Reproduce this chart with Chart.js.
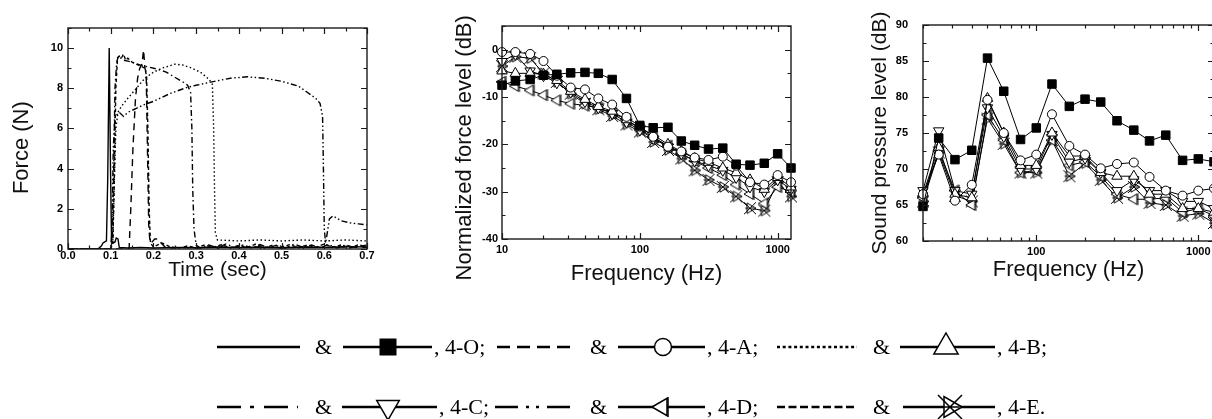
<!DOCTYPE html>
<html>
<head>
<meta charset="utf-8">
<script src="https://cdn.jsdelivr.net/npm/chart.js@4.4.0/dist/chart.umd.min.js"></script>
<style>
html, body { margin: 0; padding: 0; background: #fff; }
#page { position: relative; width: 1212px; height: 419px; overflow: hidden; }
.box { position: absolute; }
.lg { position: absolute; font-family: "Liberation Serif", "Times New Roman", serif; font-size: 22px; line-height: 22px; white-space: pre; color: #000; }
</style>
</head>
<body>
<div id="page">
  <canvas id="forceChart" class="box" width="385" height="290" style="left:0;top:0"></canvas>
  <canvas id="nflChart" class="box" width="400" height="295" style="left:400px;top:0"></canvas>
  <canvas id="splChart" class="box" width="420" height="295" style="left:820px;top:0"></canvas>
  <canvas id="legendLines" class="box" width="1212" height="99" style="left:0;top:320px"></canvas>
  <div id="legend"></div>
</div>
<script>
// ---- force vs time (left panel) ----
const t4O = [0, 0.07, 0.078, 0.082, 0.086, 0.09, 0.093, 0.0965, 0.0995, 0.102, 0.106, 0.11, 0.113, 0.117, 0.12, 0.14, 0.17, 0.2, 0.25, 0.3, 0.35, 0.4, 0.45, 0.5, 0.55, 0.6, 0.65, 0.7];
const f4O = [0, 0, 0.15, 0.3, 0.35, 0.4, 3.5, 10.0, 4.0, 0.35, 0.3, 0.35, 0.55, 0.5, 0.08, 0.05, 0.08, 0.05, 0.08, 0.06, 0.1, 0.07, 0.1, 0.06, 0.1, 0.08, 0.12, 0.1];

const t4A = [0, 0.143, 0.147, 0.152, 0.158, 0.163, 0.168, 0.173, 0.177, 0.18, 0.183, 0.186, 0.189, 0.192, 0.197, 0.203, 0.21, 0.218, 0.226, 0.24, 0.27, 0.3, 0.35, 0.4, 0.45, 0.5, 0.55, 0.6, 0.65, 0.7];
const f4A = [0, 0, 2.0, 5.0, 7.5, 8.5, 9.0, 9.2, 9.9, 9.0, 8.8, 5.0, 1.2, 0.3, 0.35, 0.5, 0.5, 0.3, 0.12, 0.05, 0.08, 0.05, 0.1, 0.08, 0.1, 0.05, 0.1, 0.08, 0.1, 0.08];

const t4B = [0, 0.1, 0.105, 0.108, 0.112, 0.117, 0.125, 0.14, 0.16, 0.18, 0.2, 0.22, 0.25, 0.27, 0.29, 0.31, 0.33, 0.338, 0.341, 0.343, 0.345, 0.35, 0.4, 0.45, 0.5, 0.55, 0.6, 0.65, 0.7];
const f4B = [0, 0, 0.5, 3.0, 6.0, 6.8, 7.1, 7.5, 8.0, 8.5, 8.8, 9.0, 9.2, 9.15, 9.0, 8.8, 8.45, 8.2, 6.0, 3.0, 0.8, 0.45, 0.4, 0.45, 0.4, 0.45, 0.4, 0.45, 0.4];

const t4C = [0, 0.1, 0.104, 0.107, 0.11, 0.114, 0.118, 0.124, 0.13, 0.14, 0.15, 0.17, 0.19, 0.21, 0.23, 0.25, 0.27, 0.28, 0.287, 0.29, 0.292, 0.295, 0.3, 0.31, 0.33, 0.35, 0.37, 0.39, 0.41, 0.43, 0.45, 0.47, 0.49, 0.51, 0.53, 0.55, 0.57, 0.59, 0.61, 0.63, 0.65, 0.67, 0.7];
const f4C = [0, 0, 0.5, 4.0, 8.0, 9.3, 9.6, 9.5, 9.4, 9.35, 9.3, 9.15, 9.05, 8.95, 8.8, 8.55, 8.3, 8.15, 7.8, 6.0, 3.0, 1.0, 0.2, 0.05, 0.2, 0.05, 0.25, 0.08, 0.2, 0.05, 0.22, 0.06, 0.2, 0.05, 0.25, 0.08, 0.2, 0.06, 0.22, 0.05, 0.2, 0.08, 0.2];

const t4D = [0, 0.1, 0.103, 0.106, 0.11, 0.12, 0.13, 0.14, 0.16, 0.18, 0.2, 0.22, 0.24, 0.26, 0.28, 0.3, 0.34, 0.38, 0.42, 0.46, 0.5, 0.54, 0.56, 0.58, 0.59, 0.596, 0.598, 0.6, 0.603, 0.607, 0.612, 0.62, 0.64, 0.66, 0.68, 0.7];
const f4D = [0, 0, 1.0, 5.0, 6.6, 6.8, 6.6, 6.8, 7.0, 7.2, 7.35, 7.55, 7.75, 7.9, 8.05, 8.15, 8.33, 8.5, 8.57, 8.5, 8.35, 8.1, 7.8, 7.5, 7.25, 6.6, 4.0, 1.0, 0.3, 0.8, 1.5, 1.65, 1.4, 1.3, 1.25, 1.2];

const t4E = [0, 0.1, 0.105, 0.108, 0.112, 0.116, 0.12, 0.125, 0.13, 0.135, 0.14, 0.15, 0.16, 0.17, 0.18, 0.184, 0.187, 0.19, 0.193, 0.2, 0.22, 0.24, 0.26, 0.28, 0.3, 0.32, 0.34, 0.36, 0.38, 0.4, 0.42, 0.44, 0.46, 0.48, 0.5, 0.52, 0.54, 0.56, 0.58, 0.6, 0.62, 0.64, 0.66, 0.68, 0.7];
const f4E = [0, 0, 0.3, 3.0, 8.0, 9.5, 9.6, 9.5, 9.7, 9.4, 9.5, 9.3, 9.2, 9.1, 9.0, 8.6, 6.0, 2.0, 0.3, 0.1, 0.3, 0.1, 0.05, 0.15, 0.05, 0.2, 0.08, 0.22, 0.05, 0.18, 0.08, 0.25, 0.05, 0.2, 0.1, 0.22, 0.06, 0.2, 0.08, 0.25, 0.1, 0.2, 0.05, 0.22, 0.1];

// ---- normalized force level (middle panel) ----
const freqNFL = [10, 12.5, 16, 20, 25, 31.5, 40, 50, 63, 80, 100, 125, 160, 200, 250, 315, 400, 500, 630, 800, 1000, 1250];
const nfl4O = [-7.5, -6.6, -6.3, -5.4, -5.2, -4.9, -4.8, -5.0, -6.3, -10.3, -16.0, -16.5, -16.4, -19.3, -20.2, -21.0, -20.8, -24.2, -24.4, -24.0, -22.0, -25.0];
const nfl4A = [-0.5, -0.5, -0.9, -2.4, -5.5, -8.0, -8.4, -10.3, -11.6, -14.2, -16.2, -18.4, -20.5, -21.5, -22.8, -23.3, -22.6, -24.5, -28.0, -28.5, -26.5, -28.0];
const nfl4B = [-4.5, -5.0, -5.0, -5.2, -6.5, -8.8, -10.5, -12.0, -13.0, -14.8, -16.5, -18.0, -20.0, -21.5, -23.0, -23.8, -25.0, -26.0, -27.5, -29.5, -27.0, -29.0];
const nfl4C = [-2.5, -1.0, -4.5, -5.5, -7.0, -9.0, -11.0, -12.3, -13.5, -15.3, -17.0, -18.8, -20.5, -22.0, -23.5, -24.5, -25.5, -27.0, -29.0, -30.0, -27.5, -29.5];
const nfl4D = [-6.8, -7.7, -8.6, -9.6, -10.7, -11.4, -11.8, -12.3, -13.4, -14.7, -16.8, -18.5, -20.3, -22.0, -23.5, -25.0, -26.5, -28.5, -30.5, -32.5, -29.0, -30.0];
const nfl4E = [-3.5, -1.5, -1.8, -5.0, -6.8, -9.3, -11.4, -12.6, -14.0, -15.8, -17.3, -19.5, -21.2, -23.0, -25.5, -27.5, -29.0, -31.0, -33.5, -34.0, -28.0, -31.0];

// ---- sound pressure level (right panel) ----
const freqSPL = [20, 25, 31.5, 40, 50, 63, 80, 100, 125, 160, 200, 250, 315, 400, 500, 630, 800, 1000, 1250];
const spl4O = [64.8, 74.3, 71.3, 72.6, 85.4, 80.8, 74.1, 75.7, 81.8, 78.7, 79.7, 79.3, 76.7, 75.4, 73.9, 74.7, 71.2, 71.4, 71.0];
const spl4A = [66.5, 72.0, 65.6, 67.8, 79.6, 75.0, 71.2, 72.0, 77.6, 73.2, 72.0, 70.1, 70.7, 70.9, 68.9, 67.0, 66.3, 67.0, 67.3];
const spl4B = [66.5, 73.0, 66.5, 66.0, 79.8, 75.0, 70.5, 70.5, 75.0, 71.8, 71.8, 69.5, 69.0, 69.0, 66.5, 66.5, 64.5, 64.5, 64.0];
const spl4C = [67.0, 75.3, 67.0, 66.5, 78.5, 74.5, 70.0, 70.0, 74.8, 71.0, 71.5, 69.5, 67.0, 68.5, 67.0, 67.0, 65.5, 65.5, 64.5];
const spl4D = [66.0, 72.5, 67.0, 65.0, 77.5, 74.0, 69.5, 69.8, 74.0, 70.5, 71.0, 69.0, 66.5, 65.8, 65.8, 66.0, 64.0, 64.5, 63.5];
const spl4E = [65.5, 72.3, 66.3, 65.5, 77.0, 73.5, 69.5, 69.5, 74.0, 69.0, 70.8, 68.5, 66.0, 67.5, 65.3, 65.0, 63.5, 63.8, 62.5];

const sans = "'Liberation Sans', Arial, sans-serif";
const tickFont = { family: sans, size: 11, weight: 'bold' };

// markers drawn by hand (same shapes in plots and legend)
function drawMarker(g, kind, x, y, s) {
    g.beginPath();
    if (kind === 'square') {
        g.fillStyle = '#000';
        g.fillRect(x - s, y - s, 2 * s, 2 * s);
        return;
    }
    g.fillStyle = '#fff';
    if (kind === 'circle') {
        g.arc(x, y, s, 0, Math.PI * 2);
    } else if (kind === 'tri') {
        g.moveTo(x, y - s); g.lineTo(x + s * 0.866, y + s / 2); g.lineTo(x - s * 0.866, y + s / 2); g.closePath();
    } else if (kind === 'triDown') {
        g.moveTo(x, y + s); g.lineTo(x + s * 0.866, y - s / 2); g.lineTo(x - s * 0.866, y - s / 2); g.closePath();
    } else if (kind === 'triLeftBar') {
        g.moveTo(x - s, y); g.lineTo(x + s / 2, y - s * 0.866); g.lineTo(x + s / 2, y + s * 0.866); g.closePath();
        g.fill(); g.stroke();
        g.beginPath();
        g.moveTo(x + s / 2 + 1, y - s); g.lineTo(x + s / 2 + 1, y + s);
        g.stroke();
        return;
    } else if (kind === 'starTri') {
        g.moveTo(x + s, y); g.lineTo(x - s / 2, y - s * 0.866); g.lineTo(x - s / 2, y + s * 0.866); g.closePath();
        g.fill(); g.stroke();
        g.beginPath();
        g.moveTo(x - s, y - s); g.lineTo(x + s, y + s);
        g.moveTo(x + s, y - s); g.lineTo(x - s, y + s);
        g.moveTo(x - s * 0.8, y); g.lineTo(x + s * 0.8, y);
        g.stroke();
        return;
    }
    g.fill(); g.stroke();
}

function markerCanvas(kind, s) {
    const c = document.createElement('canvas');
    c.width = 2 * s + 4; c.height = 2 * s + 4;
    const g = c.getContext('2d');
    g.strokeStyle = '#000'; g.lineWidth = 1;
    drawMarker(g, kind, c.width / 2, c.height / 2, s);
    return c;
}

// frame with inward ticks on all four sides
function tickList(scale, o) {
    const out = [];
    if (o.log) {
        const e0 = Math.floor(Math.log10(scale.min)), e1 = Math.ceil(Math.log10(scale.max));
        for (let e = e0; e <= e1; e++) {
            for (let k = 1; k < 10; k++) {
                const v = k * Math.pow(10, e);
                if (v >= scale.min - 1e-9 && v <= scale.max + 1e-9) out.push([v, k === 1]);
            }
        }
    } else {
        const i0 = Math.ceil(scale.min / o.minor - 1e-9), i1 = Math.floor(scale.max / o.minor + 1e-9);
        for (let i = i0; i <= i1; i++) {
            const v = i * o.minor;
            out.push([v, Math.abs(v / o.major - Math.round(v / o.major)) < 1e-6]);
        }
    }
    return out;
}

const framePlugin = {
    id: 'frame',
    afterDatasetsDraw(chart, args, opts) {
        const { ctx, chartArea: a, scales: { x, y } } = chart;
        ctx.save();
        ctx.strokeStyle = '#1a1a1a';
        ctx.lineWidth = 1.4;
        ctx.strokeRect(a.left, a.top, a.right - a.left, a.bottom - a.top);
        ctx.beginPath();
        tickList(x, opts.x).forEach(([v, major]) => {
            const p = Math.round(x.getPixelForValue(v)) + 0.5;
            const l = major ? 6 : 3.5;
            ctx.moveTo(p, a.bottom); ctx.lineTo(p, a.bottom - l);
            ctx.moveTo(p, a.top); ctx.lineTo(p, a.top + l);
        });
        tickList(y, opts.y).forEach(([v, major]) => {
            const p = Math.round(y.getPixelForValue(v)) + 0.5;
            const l = major ? 6 : 3.5;
            ctx.moveTo(a.left, p); ctx.lineTo(a.left + l, p);
            ctx.moveTo(a.right, p); ctx.lineTo(a.right - l, p);
        });
        ctx.lineWidth = 1.2;
        ctx.stroke();
        ctx.restore();
    }
};

function pairs(xs, ys) {
    return xs.map((v, i) => ({ x: v, y: ys[i] }));
}

function baseOptions(pad) {
    return {
        responsive: false,
        animation: false,
        events: [],
        layout: { padding: pad }
    };
}

function axisTitle(text, size, padding) {
    return { display: true, text: text, color: '#111', font: { family: sans, size: size }, padding: padding };
}

const noGrid = { display: false, drawTicks: false };

// left panel
const timeSeries = [
    [t4O, f4O, []],
    [t4A, f4A, [7, 5]],
    [t4B, f4B, [1.5, 2.5]],
    [t4C, f4C, [6, 3, 1.5, 3]],
    [t4D, f4D, [6, 2.5, 1.5, 2.5, 1.5, 2.5]],
    [t4E, f4E, [3.5, 2.5]]
];

new Chart('forceChart', {
    type: 'line',
    data: {
        datasets: timeSeries.map(s => ({
            data: pairs(s[0], s[1]),
            borderColor: '#000',
            borderWidth: 1.4,
            borderDash: s[2],
            pointRadius: 0,
            tension: 0
        }))
    },
    options: Object.assign(baseOptions({ left: 0, top: 28, right: 18, bottom: 0 }), {
        scales: {
            x: {
                type: 'linear', min: 0, max: 0.7,
                grid: noGrid, border: { display: false },
                afterBuildTicks: s => { s.ticks = [0, 1, 2, 3, 4, 5, 6, 7].map(i => ({ value: i / 10 })); },
                ticks: { font: tickFont, color: '#000', padding: 0, maxRotation: 0, autoSkip: false, callback: v => v.toFixed(1) },
                title: axisTitle('Time (sec)', 21, { top: 0, bottom: 7 }),
                afterFit: s => { s.height = 41; }
            },
            y: {
                type: 'linear', min: 0, max: 11,
                grid: noGrid, border: { display: false },
                afterBuildTicks: s => { s.ticks = [0, 2, 4, 6, 8, 10].map(v => ({ value: v })); },
                ticks: { font: tickFont, color: '#000', padding: 5 },
                title: axisTitle('Force (N)   ', 22, { top: 9, bottom: 0 }),
                afterFit: s => { s.width = 68; }
            }
        },
        plugins: {
            legend: { display: false }, tooltip: { enabled: false },
            frame: { x: { major: 0.1, minor: 0.05 }, y: { major: 2, minor: 1 } }
        }
    }),
    plugins: [framePlugin]
});

// marker styles for the spectra
const markD = markerCanvas('triLeftBar', 6);
const markE = markerCanvas('starTri', 6);
function spectrumSets(freqs, list) {
    const styles = [
        { pointStyle: 'rect', pointRadius: 6, pointBackgroundColor: '#000' },
        { pointStyle: 'circle', pointRadius: 4.5, pointBackgroundColor: '#fff' },
        { pointStyle: 'triangle', pointRadius: 6, pointBackgroundColor: '#fff' },
        { pointStyle: 'triangle', pointRadius: 6, pointRotation: 180, pointBackgroundColor: '#fff' },
        { pointStyle: markD, pointRadius: 6, pointBackgroundColor: '#fff' },
        { pointStyle: markE, pointRadius: 6, pointBackgroundColor: '#fff' }
    ];
    return list.map((vals, i) => Object.assign({
        data: pairs(freqs, vals),
        borderColor: '#000',
        borderWidth: 1,
        pointBorderColor: '#000',
        pointBorderWidth: 1,
        tension: 0,
        clip: 8
    }, styles[i]));
}

function logX(min, max, h, titlePad) {
    return {
        type: 'logarithmic', min: min, max: max,
        grid: noGrid, border: { display: false },
        afterBuildTicks: s => { s.ticks = [10, 100, 1000].filter(v => v >= min && v <= max).map(v => ({ value: v })); },
        ticks: { font: tickFont, color: '#000', padding: 4, maxRotation: 0, autoSkip: false, callback: v => String(v) },
        title: axisTitle('Frequency (Hz)', 22, { top: 0, bottom: titlePad }),
        afterFit: s => { s.height = h; }
    };
}

// middle panel
new Chart('nflChart', {
    type: 'line',
    data: { datasets: spectrumSets(freqNFL, [nfl4O, nfl4A, nfl4B, nfl4C, nfl4D, nfl4E]) },
    options: Object.assign(baseOptions({ left: 50, top: 26, right: 9, bottom: 0 }), {
        scales: {
            x: logX(10, 1250, 56, 8),
            y: {
                type: 'linear', min: -40, max: 5,
                grid: noGrid, border: { display: false },
                afterBuildTicks: s => { s.ticks = [-40, -30, -20, -10, 0].map(v => ({ value: v })); },
                ticks: { font: tickFont, color: '#000', padding: 4 },
                title: axisTitle('Normalized force level (dB)     ', 22, { top: 2, bottom: 0 }),
                afterFit: s => { s.width = 52; }
            }
        },
        plugins: {
            legend: { display: false }, tooltip: { enabled: false },
            frame: { x: { log: true }, y: { major: 10, minor: 5 } }
        }
    }),
    plugins: [framePlugin]
});

// right panel
new Chart('splChart', {
    type: 'line',
    data: { datasets: spectrumSets(freqSPL, [spl4O, spl4A, spl4B, spl4C, spl4D, spl4E]) },
    options: Object.assign(baseOptions({ left: 40, top: 25, right: 26, bottom: 0 }), {
        scales: {
            x: logX(20, 1250, 54, 12),
            y: {
                type: 'linear', min: 60, max: 90,
                grid: noGrid, border: { display: false },
                afterBuildTicks: s => { s.ticks = [60, 65, 70, 75, 80, 85, 90].map(v => ({ value: v })); },
                ticks: { font: tickFont, color: '#000', padding: 15 },
                title: axisTitle('Sound pressure level (dB)', 21, { top: 8, bottom: 0 }),
                afterFit: s => { s.width = 63; }
            }
        },
        plugins: {
            legend: { display: false }, tooltip: { enabled: false },
            frame: { x: { log: true }, y: { major: 5, minor: 2.5 } }
        }
    }),
    plugins: [framePlugin]
});

// legend: line pattern & marker line, label
const legendItems = [
    { row: 0, dash: [], x0: 217, x1: 300, mark: 'square', ms: 8.5, mx: 388, m0: 343, m1: 432, label: ', 4-O;', lx: 434 },
    { row: 0, dash: [13, 7], x0: 497, x1: 573, mark: 'circle', ms: 8.5, mx: 663, m0: 618, m1: 705, label: ', 4-A;', lx: 707 },
    { row: 0, dash: [3, 2.7], x0: 777, x1: 857, mark: 'tri', ms: 14, mx: 946, m0: 900, m1: 995, label: ', 4-B;', lx: 997 },
    { row: 1, dash: [24, 9, 4, 10], x0: 217, x1: 298, mark: 'triDown', ms: 13, mx: 388, m0: 342, m1: 437, label: ', 4-C;', lx: 439 },
    { row: 1, dash: [23, 8, 3, 7, 3, 8], x0: 495, x1: 575, mark: 'triLeftBar', ms: 10, mx: 662, m0: 618, m1: 705, label: ', 4-D;', lx: 707 },
    { row: 1, dash: [8, 3.5], x0: 777, x1: 857, mark: 'starTri', ms: 12, mx: 950, m0: 903, m1: 995, label: ', 4-E.', lx: 997 }
];
const legendRowY = [27, 87];
const ampX = [315, 590, 873];

const lg = document.getElementById('legendLines').getContext('2d');
const legendDiv = document.getElementById('legend');
function addText(txt, x, y) {
    const s = document.createElement('span');
    s.className = 'lg';
    s.textContent = txt;
    s.style.left = x + 'px';
    s.style.top = (320 + y - 11) + 'px';
    legendDiv.appendChild(s);
}
legendItems.forEach((it, i) => {
    const y = legendRowY[it.row];
    lg.strokeStyle = '#000';
    lg.lineWidth = 2.5;
    lg.setLineDash(it.dash);
    lg.beginPath(); lg.moveTo(it.x0, y); lg.lineTo(it.x1, y); lg.stroke();
    lg.setLineDash([]);
    lg.beginPath(); lg.moveTo(it.m0, y); lg.lineTo(it.m1, y); lg.stroke();
    lg.lineWidth = 1.5;
    drawMarker(lg, it.mark, it.mx, y, it.ms);
    addText('&', ampX[i % 3], y);
    addText(it.label, it.lx, y);
});
</script>
</body>
</html>
